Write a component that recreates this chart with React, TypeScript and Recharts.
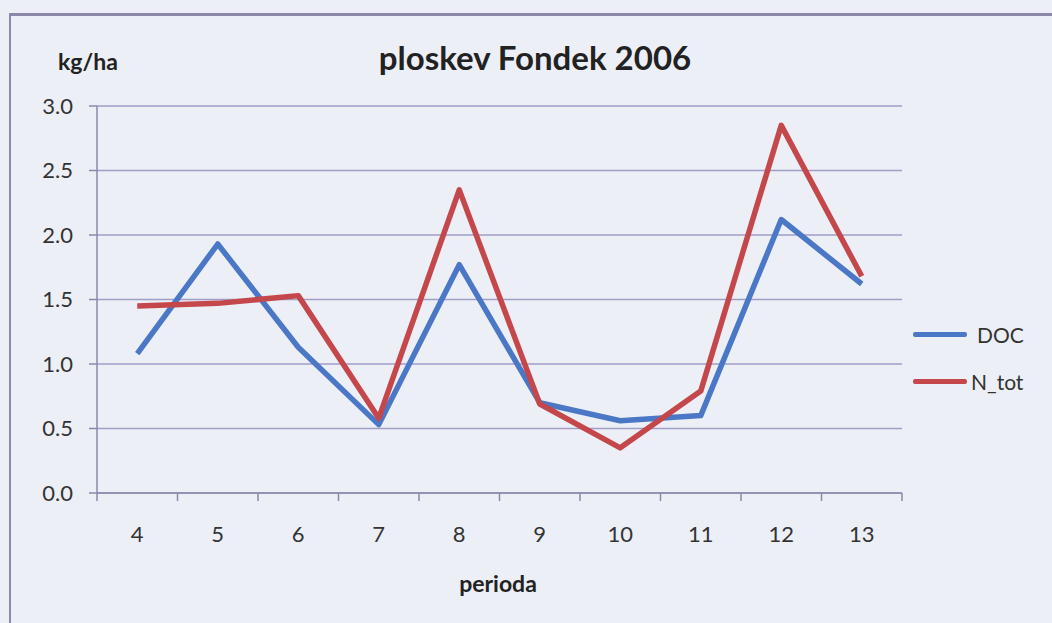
import React from 'react';
import { LineChart, Line, XAxis, YAxis, CartesianGrid, Legend } from 'recharts';

const periods = [4, 5, 6, 7, 8, 9, 10, 11, 12, 13];
const docValues = [1.08, 1.93, 1.13, 0.53, 1.77, 0.7, 0.56, 0.6, 2.12, 1.62];
const nTotValues = [1.45, 1.47, 1.53, 0.58, 2.35, 0.69, 0.35, 0.79, 2.85, 1.68];
const yTicks = [0, 0.5, 1, 1.5, 2, 2.5, 3];
const seriesNames = ['DOC', 'N_tot'];
const seriesColors = ['#4a78c6', '#c4474b'];

const data = periods.map((p, i) => ({ period: p, DOC: docValues[i], N_tot: nTotValues[i] }));

// tick positions: band boundaries (for tick marks) and centers (for labels)
const xTicks: number[] = [];
periods.forEach((p) => {
  xTicks.push(p - 0.5);
  xTicks.push(p);
});
xTicks.push(periods[periods.length - 1] + 0.5);

const FONT = 'Lato, "Open Sans", sans-serif';
const AXIS_COLOR = '#8a88a8';

const XTick = (props: any) => {
  const { x, y, payload } = props;
  const v = payload.value as number;
  if (Number.isInteger(v)) {
    return (
      <text x={x} y={y + 49} textAnchor="middle" fontSize={22} fill="#333" fontFamily={FONT}>
        {String(v)}
      </text>
    );
  }
  return <line x1={x} y1={y} x2={x} y2={y + 8} stroke={AXIS_COLOR} strokeWidth={1.5} />;
};

const LegendContent = (props: any) => {
  const { payload } = props;
  return (
    <div style={{ fontFamily: FONT, fontSize: 21, color: '#333' }}>
      {(payload || []).map((e: any, i: number) => (
        <div key={i} style={{ display: 'flex', alignItems: 'center', height: 47 }}>
          <div style={{ width: 54, height: 5, background: e.color, borderRadius: 2 }} />
          <span style={{ marginLeft: i === 0 ? 10 : 4 }}>{e.value}</span>
        </div>
      ))}
    </div>
  );
};

export default function App() {
  return (
    <div
      style={{
        position: 'absolute',
        left: 0,
        top: 0,
        width: 1052,
        height: 623,
        background: '#edeff6',
        overflow: 'hidden',
        fontFamily: FONT,
      }}
    >
      <div
        style={{
          position: 'absolute',
          left: 9,
          top: 13,
          width: 1100,
          height: 700,
          borderTop: '3px solid #8c88aa',
          borderLeft: '2px solid #8c88aa',
        }}
      />
      <div
        style={{
          position: 'absolute',
          left: 285,
          width: 500,
          top: 37,
          textAlign: 'center',
          fontSize: 33,
          fontWeight: 700,
          color: '#222',
          lineHeight: '40px',
          whiteSpace: 'nowrap',
        }}
      >
        ploskev Fondek 2006
      </div>
      <div
        style={{
          position: 'absolute',
          left: 58,
          top: 48,
          fontSize: 23,
          fontWeight: 700,
          color: '#222',
          lineHeight: '26px',
        }}
      >
        kg/ha
      </div>
      <div
        style={{
          position: 'absolute',
          left: 400,
          width: 196,
          top: 569,
          textAlign: 'center',
          fontSize: 23,
          fontWeight: 700,
          color: '#222',
          lineHeight: '28px',
        }}
      >
        perioda
      </div>
      <LineChart
        width={1052}
        height={623}
        data={data}
        margin={{ top: 106, right: 20, bottom: 70, left: 0 }}
        style={{ position: 'absolute', left: 0, top: 0 }}
      >
        <CartesianGrid vertical={false} stroke="#a09ec8" strokeWidth={1.5} />
        <XAxis
          dataKey="period"
          type="number"
          domain={[periods[0] - 0.5, periods[periods.length - 1] + 0.5]}
          ticks={xTicks}
          interval={0}
          tick={<XTick />}
          tickLine={false}
          tickSize={0}
          tickMargin={0}
          height={60}
          axisLine={{ stroke: AXIS_COLOR, strokeWidth: 1.5 }}
          allowDecimals
        />
        <YAxis
          width={97}
          domain={[0, 3]}
          ticks={yTicks}
          interval={0}
          tickFormatter={(v: number) => v.toFixed(1)}
          tickSize={8}
          tickMargin={16}
          tick={{ fontSize: 22, fill: '#333', fontFamily: FONT }}
          tickLine={{ stroke: AXIS_COLOR, strokeWidth: 1.5 }}
          axisLine={{ stroke: AXIS_COLOR, strokeWidth: 1.5 }}
        />
        <Legend
          layout="vertical"
          align="right"
          verticalAlign="top"
          content={<LegendContent />}
          wrapperStyle={{ position: 'absolute', left: 913, top: 311, width: 130 }}
        />
        {seriesNames.map((name, i) => (
          <Line
            key={name}
            type="linear"
            dataKey={name}
            stroke={seriesColors[i]}
            strokeWidth={5.5}
            dot={false}
            activeDot={false}
            strokeLinejoin="round"
            isAnimationActive={false}
          />
        ))}
      </LineChart>
    </div>
  );
}
